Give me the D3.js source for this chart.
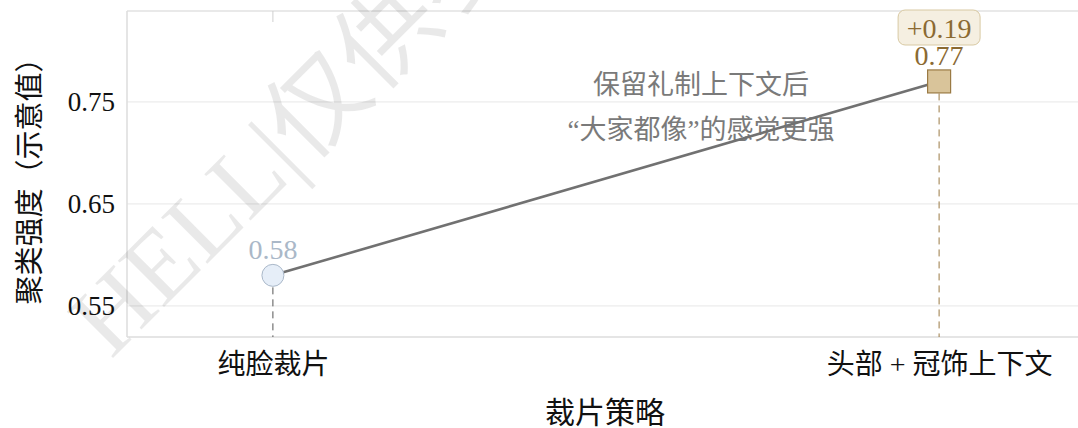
<!DOCTYPE html>
<html>
<head>
<meta charset="utf-8">
<script src="https://cdn.jsdelivr.net/npm/d3@7"></script>
<style>
  body { margin: 0; background: #fff; }
  svg { display: block; }
</style>
</head>
<body>
<div id="chart-area"></div>
<script>
const categories = ["纯脸裁片", "头部 + 冠饰上下文"];
const values = [0.58, 0.77];
const yTicks = [0.55, 0.65, 0.75];
const deltaLabel = "+0.19";
const noteLines = ["保留礼制上下文后", "“大家都像”的感觉更强"];
const xTitle = "裁片策略";
const yTitle = "聚类强度（示意值）";
const watermark = "HELL|仅供参考";

const chartSize = { width: 1078, height: 428 };
const margin = { left: 127, right: -7, top: 11, bottom: 91 };
const width = chartSize.width - margin.left - margin.right;
const height = chartSize.height - margin.top - margin.bottom;

const fontStack = '"Liberation Serif", "Noto Sans CJK SC", serif';

const svg = d3
  .select("#chart-area")
  .append("svg")
  .attr("width", chartSize.width)
  .attr("height", chartSize.height);

const x = d3.scalePoint().domain(categories).range([0, width]).padding(0.219);
const y = d3.scaleLinear().domain([0.5196, 0.839]).range([height, 0]);

const g = svg
  .append("g")
  .attr("transform", `translate(${margin.left}, ${margin.top})`);

// grid
g.selectAll(".grid")
  .data(yTicks)
  .join("line")
  .attr("x1", 0)
  .attr("x2", width)
  .attr("y1", d => y(d))
  .attr("y2", d => y(d))
  .attr("stroke", "#ececec")
  .attr("stroke-width", 1.2);

// frame
g.append("line").attr("x1", 0).attr("x2", width).attr("y1", 0).attr("y2", 0)
  .attr("stroke", "#e2e2e2").attr("stroke-width", 1.5);
g.append("line").attr("x1", 0).attr("x2", width).attr("y1", height).attr("y2", height)
  .attr("stroke", "#dcdcdc").attr("stroke-width", 1.5);
g.append("line").attr("x1", 0).attr("x2", 0).attr("y1", 0).attr("y2", height)
  .attr("stroke", "#dcdcdc").attr("stroke-width", 1.5);

// top ticks
g.selectAll(".ttick")
  .data(categories)
  .join("line")
  .attr("x1", d => x(d))
  .attr("x2", d => x(d))
  .attr("y1", 0)
  .attr("y2", 11)
  .attr("stroke", "#cfcfcf");

// watermark
svg.append("text")
  .attr("transform", "translate(111, 360) rotate(-45)")
  .attr("font-family", fontStack)
  .attr("font-size", 100)
  .attr("fill", "#000")
  .attr("fill-opacity", 0.085)
  .text(watermark);

// y axis
const yAxis = d3.axisLeft(y).tickValues(yTicks).tickFormat(d3.format(".2f")).tickSize(0).tickPadding(12);
const yg = g.append("g").call(yAxis);
yg.select(".domain").remove();
yg.selectAll("text")
  .attr("font-family", fontStack)
  .attr("font-size", 27)
  .attr("fill", "#111");

// x axis
const xAxis = d3.axisBottom(x).tickSize(0);
const xg = g.append("g").attr("transform", `translate(0, ${height})`).call(xAxis);
xg.select(".domain").remove();
xg.selectAll("text")
  .attr("y", 37)
  .attr("dy", null)
  .attr("font-family", fontStack)
  .attr("font-size", 28)
  .attr("fill", "#111");

// axis titles
svg.append("text")
  .attr("x", 605)
  .attr("y", 423)
  .attr("text-anchor", "middle")
  .attr("font-family", fontStack)
  .attr("font-size", 30)
  .attr("fill", "#111")
  .text(xTitle);

svg.append("text")
  .attr("transform", `translate(40, 174) rotate(-90)`)
  .attr("text-anchor", "middle")
  .attr("font-family", fontStack)
  .attr("font-size", 29)
  .attr("fill", "#111")
  .text(yTitle);

// drop lines
const colors = [
  { dash: "#555", fill: "#e6eef8", stroke: "#aab8c9", label: "#aab8c8" },
  { dash: "#9a7a44", fill: "#d9c49a", stroke: "#9a7a44", label: "#8b6a32" }
];

g.selectAll(".drop")
  .data(values)
  .join("line")
  .attr("x1", (d, i) => x(categories[i]))
  .attr("x2", (d, i) => x(categories[i]))
  .attr("y1", d => y(d))
  .attr("y2", height)
  .attr("stroke", (d, i) => colors[i].dash)
  .attr("stroke-width", 1)
  .attr("stroke-dasharray", "7,5");

// annotation text
const note = g.append("text")
  .attr("font-family", fontStack)
  .attr("font-size", 27)
  .attr("fill", "#7a7a7a")
  .attr("text-anchor", "middle");
note.selectAll("tspan")
  .data(noteLines)
  .join("tspan")
  .attr("x", 701 - margin.left)
  .attr("y", (d, i) => 94 - margin.top + i * 45)
  .text(d => d);

// connecting line
const line = d3.line()
  .x((d, i) => x(categories[i]))
  .y(d => y(d));

g.append("path")
  .attr("d", line(values))
  .attr("fill", "none")
  .attr("stroke", "#717171")
  .attr("stroke-width", 2.6);

// markers
g.append("circle")
  .attr("cx", x(categories[0]))
  .attr("cy", y(values[0]))
  .attr("r", 11)
  .attr("fill", colors[0].fill)
  .attr("stroke", colors[0].stroke)
  .attr("stroke-width", 1);

const sq = 23;
g.append("rect")
  .attr("x", x(categories[1]) - sq / 2)
  .attr("y", y(values[1]) - sq / 2)
  .attr("width", sq)
  .attr("height", sq)
  .attr("fill", colors[1].fill)
  .attr("stroke", colors[1].stroke)
  .attr("stroke-width", 1.2);

// value labels
g.selectAll(".vlabel")
  .data(values)
  .join("text")
  .attr("x", (d, i) => x(categories[i]))
  .attr("y", d => y(d) - 16)
  .attr("text-anchor", "middle")
  .attr("font-family", fontStack)
  .attr("font-size", 28)
  .attr("fill", (d, i) => colors[i].label)
  .text(d => d3.format(".2f")(d));

// delta badge
const bx = x(categories[1]);
const by = y(values[1]) - 55;
g.append("rect")
  .attr("x", bx - 41)
  .attr("y", 10 - margin.top)
  .attr("width", 82)
  .attr("height", 35)
  .attr("rx", 7)
  .attr("fill", "#f5efe1")
  .attr("stroke", "#d8c9a3")
  .attr("stroke-width", 1);
g.append("text")
  .attr("x", bx)
  .attr("y", 38 - margin.top)
  .attr("text-anchor", "middle")
  .attr("font-family", fontStack)
  .attr("font-size", 28)
  .attr("fill", colors[1].label)
  .text(deltaLabel);
</script>
</body>
</html>
